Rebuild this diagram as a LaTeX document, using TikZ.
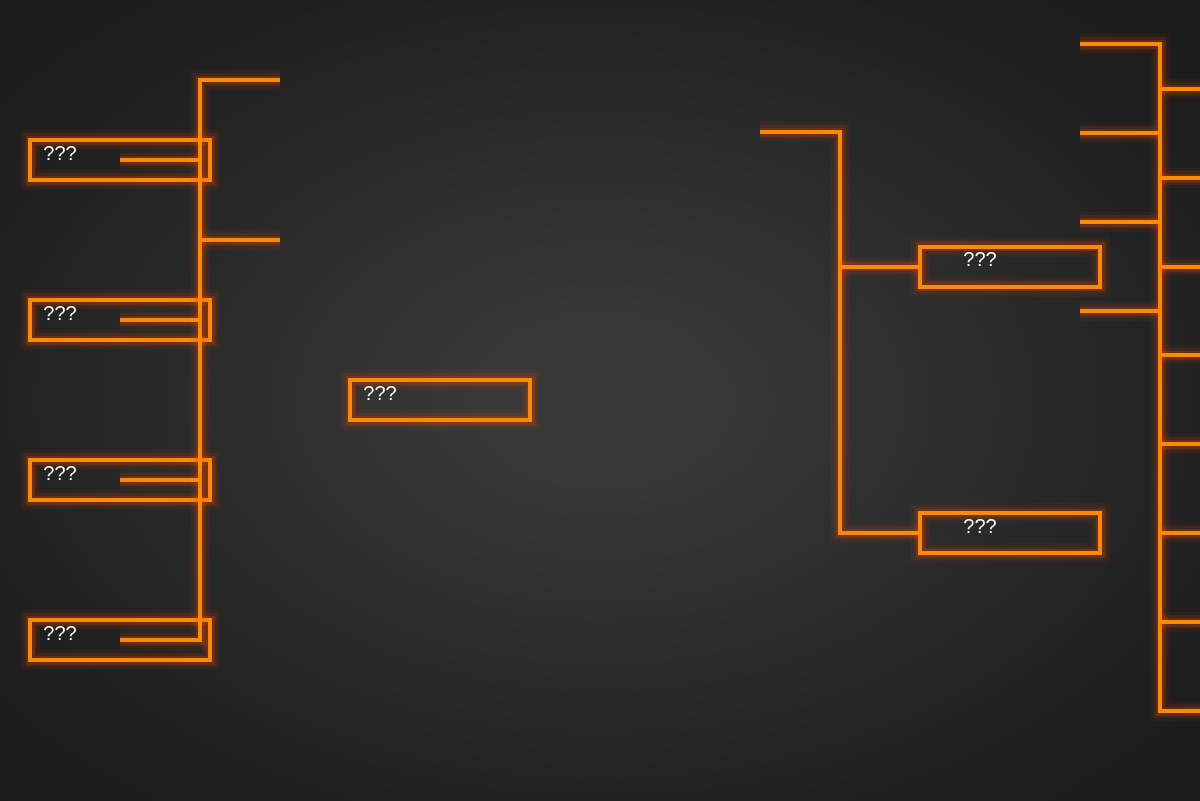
\documentclass[tikz,border=0pt]{standalone}
\usepackage{fontspec}
\setmainfont{Liberation Sans}
\usetikzlibrary{positioning,calc}
\definecolor{neon}{RGB}{255,138,0}
\definecolor{halo}{RGB}{255,80,0}
\definecolor{bgmid}{RGB}{56,56,56}
\definecolor{bgedge}{RGB}{34,34,34}
\definecolor{bgdark}{RGB}{26,26,26}
\pgfdeclareradialshading{bgglow}{\pgfpoint{0bp}{0bp}}{color(0bp)=(bgmid); color(5bp)=(bgmid); color(25bp)=(bgedge); color(36bp)=(bgdark); color(50bp)=(bgdark)}
\tikzstyle{glow}=[preaction={draw=halo,line width=10pt,opacity=0.05},preaction={draw=halo,line width=7pt,opacity=0.09},preaction={draw=halo,line width=4.5pt,opacity=0.18}]
\tikzstyle{wire}=[glow,draw=neon,line width=2pt,line join=miter]
\tikzstyle{slot}=[wire,rectangle,minimum width=90pt,minimum height=20pt,inner sep=0pt,outer sep=0pt]
\tikzstyle{tag}=[text=white,font=\fontsize{10pt}{12pt}\selectfont,inner sep=0pt,anchor=base west]

\begin{document}
\begin{tikzpicture}[x=0.5pt,y=-0.5pt]

\useasboundingbox (0,0) rectangle (1200,800);
\shade [shading=bgglow] (0,0) rectangle (1200,800);

% left bracket
\node (l1) [slot] at (120,160) {};
\node (l2) [slot,below=60pt of l1] {};
\node (l3) [slot,below=60pt of l2] {};
\node (l4) [slot,below=60pt of l3] {};
\foreach \n in {l1,l2,l3,l4}
  \node (\n-tag) [tag] at ($(\n.north west)+(13,20)$) {???};

\coordinate (ltop) at (200,80);
\coordinate (ltop-end) at (280,80);
\coordinate (lmid) at (200,240);
\coordinate (lmid-end) at (280,240);

\draw [wire] (ltop-end) -- (ltop) -- (l4.center -| ltop) -- (l4.center);
\draw [wire] (l1.center) -- (l1.center -| ltop);
\draw [wire] (l2.center) -- (l2.center -| ltop);
\draw [wire] (l3.center) -- (l3.center -| ltop);
\draw [wire] (lmid) -- (lmid-end);

% centre
\node (hub) [slot] at (440,400) {};
\node (hub-tag) [tag] at ($(hub.north west)+(13,20)$) {???};

% right bracket
\node (r1) [slot] at (1010,266.5) {};
\node (r2) [slot] at (1010,533) {};
\node (r1-tag) [tag] at ($(r1.north west)+(43,20)$) {???};
\node (r2-tag) [tag] at ($(r2.north west)+(43,20)$) {???};

\coordinate (rtop) at (840,132);
\coordinate (rtop-end) at (760,132);

\draw [wire] (rtop-end) -- (rtop) -- (r2.west -| rtop) -- (r2.west);
\draw [wire] (r1.west -| rtop) -- (r1.west);

% far right
\coordinate (ftop) at (1160,44);
\coordinate (ftop-end) at (1080,44);
\coordinate (fbot) at (1160,711);
\coordinate (fbot-end) at (1200,711);

\draw [wire] (ftop-end) -- (ftop) -- (fbot) -- (fbot-end);
\foreach \y [count=\i] in {133,222,311} {
  \coordinate (fin\i) at (1080,\y);
  \draw [wire] (fin\i) -- (fin\i -| ftop);
}
\foreach \y [count=\i] in {89,178,267,355,444,533,622} {
  \coordinate (fout\i) at (1200,\y);
  \draw [wire] (fout\i -| ftop) -- (fout\i);
}

\end{tikzpicture}
\end{document}
